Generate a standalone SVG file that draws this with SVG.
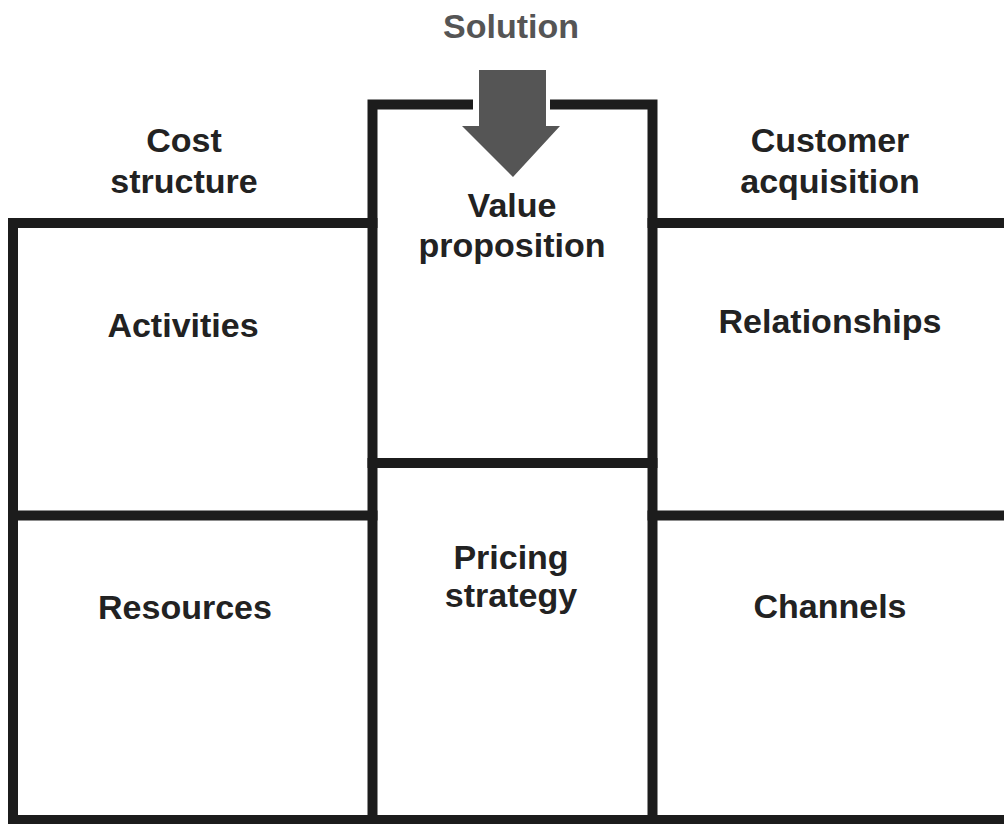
<svg xmlns="http://www.w3.org/2000/svg" width="1004" height="824" viewBox="0 0 1004 824">
<style>
.ln{fill:none;stroke:#1c1c1c;stroke-width:10;stroke-linejoin:miter;stroke-linecap:square}
.lbl{font-family:"Liberation Sans",Arial,sans-serif;font-weight:bold;font-size:34px;fill:#222;text-anchor:middle}
.sol{fill:#555}
</style>
<rect width="1004" height="824" fill="#fff"/>
<g id="connectors">
<path class="ln" d="M372.5,223 H13 V820 H1010"/>
<path class="ln" d="M13,515.5 H372.5"/>
<path class="ln" d="M652.5,223 H1010"/>
<path class="ln" d="M652.5,515.5 H1010"/>
<path class="ln" d="M468,104.5 H372.5 V820"/>
<path class="ln" d="M555,104.5 H652.5 V820"/>
<path class="ln" d="M372.5,463 H652.5"/>
</g>
<g id="solution">
<polygon points="479,70 546,70 546,126 560,126 513,177 462,126 479,126" fill="#555"/>
<text class="lbl sol" x="511" y="38">Solution</text>
</g>
<g id="cost-structure">
<text class="lbl" x="184" y="152">Cost</text>
<text class="lbl" x="184" y="193">structure</text>
</g>
<g id="customer-acquisition">
<text class="lbl" x="830" y="152">Customer</text>
<text class="lbl" x="830" y="193">acquisition</text>
</g>
<g id="value-proposition">
<text class="lbl" x="512" y="217">Value</text>
<text class="lbl" x="512" y="257">proposition</text>
</g>
<g id="activities">
<text class="lbl" x="183" y="337">Activities</text>
</g>
<g id="relationships">
<text class="lbl" x="830" y="333">Relationships</text>
</g>
<g id="pricing-strategy">
<text class="lbl" x="511" y="569">Pricing</text>
<text class="lbl" x="511" y="607">strategy</text>
</g>
<g id="resources">
<text class="lbl" x="185" y="619">Resources</text>
</g>
<g id="channels">
<text class="lbl" x="830" y="618">Channels</text>
</g>
</svg>
